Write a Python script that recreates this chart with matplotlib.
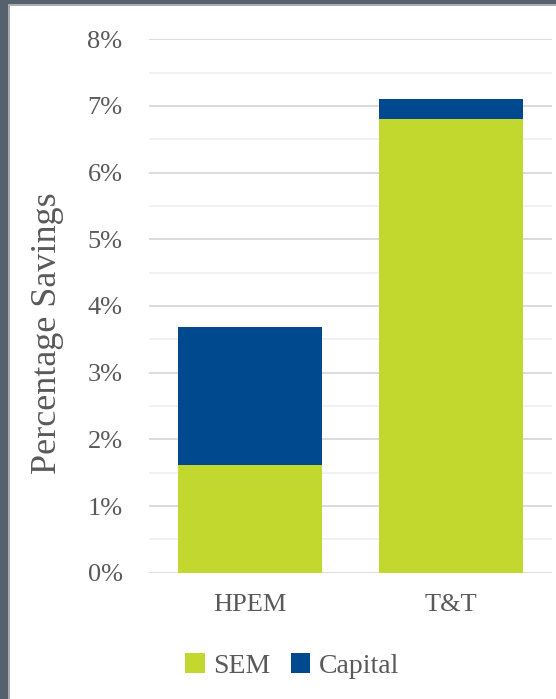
import matplotlib.pyplot as plt
from matplotlib.patches import Rectangle
from matplotlib.ticker import MultipleLocator, FuncFormatter
import numpy as np

# Data
categories = ['HPEM', 'T&T']
sem = [1.62, 6.81]
capital = [2.06, 0.30]
series_names = ['SEM', 'Capital']
colors = ['#c2d82f', '#00498f']
text_color = '#595959'

plt.rcParams['font.family'] = ['Liberation Serif', 'DejaVu Serif']

fig = plt.figure(figsize=(5.56, 6.99), dpi=100)
fig.patch.set_facecolor('white')

# dark frame on the left and top edges, like the slide it was cut from
W, H = 556, 699
frame = '#56616e'
fig.add_artist(Rectangle((0, 0), 8 / W, 1, transform=fig.transFigure, color=frame, lw=0))
fig.add_artist(Rectangle((8 / W, 0), 2 / W, 1 - 4 / H, transform=fig.transFigure, color='#a9abad', lw=0))
fig.add_artist(Rectangle((0, 1 - 4 / H), 1, 4 / H, transform=fig.transFigure, color=frame, lw=0))
fig.add_artist(Rectangle((8 / W, 1 - 6 / H), 1, 2 / H, transform=fig.transFigure, color='#a9abad', lw=0))

ax_left, ax_right = 149, 552
ax = fig.add_axes([ax_left / W, 1 - 572.7 / H, (ax_right - ax_left) / W, (572.7 - 39.3) / H])

x = np.arange(len(categories))
width = 0.715
ax.bar(x, sem, width, color=colors[0], label=series_names[0], zorder=3)
ax.bar(x, capital, width, bottom=sem, color=colors[1], label=series_names[1], zorder=3)

ax.set_xlim(-0.5, 1.5)
ax.set_ylim(0, 8)
ax.yaxis.set_major_locator(MultipleLocator(1))
ax.yaxis.set_minor_locator(MultipleLocator(0.5))
ax.yaxis.set_major_formatter(FuncFormatter(lambda v, p: f'{v:.0f}%'))
ax.grid(axis='y', which='major', color='#d9d9d9', lw=1.3, zorder=0)
ax.grid(axis='y', which='minor', color='#f0f0f0', lw=1.3, zorder=0)

for s in ax.spines.values():
    s.set_visible(False)

ax.set_xticks(x)
ax.set_xticklabels(categories)
ax.tick_params(axis='y', which='both', length=0, pad=19, labelsize=19, labelcolor=text_color)
ax.tick_params(axis='x', length=0, pad=15, labelsize=19, labelcolor=text_color)

ax.set_ylabel('Percentage Savings', fontsize=26, color=text_color)
ax.yaxis.set_label_coords((64 - ax_left) / (ax_right - ax_left), 0.449)

leg = ax.legend(loc='center', bbox_to_anchor=(292 / W, 1 - 666 / H), bbox_transform=fig.transFigure,
                ncol=2, frameon=False, fontsize=20, handlelength=0.7, handleheight=0.7,
                handletextpad=0.3, columnspacing=0.75, borderaxespad=0)
for t in leg.get_texts():
    t.set_color(text_color)

fig.savefig('out.png', dpi=100, facecolor='white')
